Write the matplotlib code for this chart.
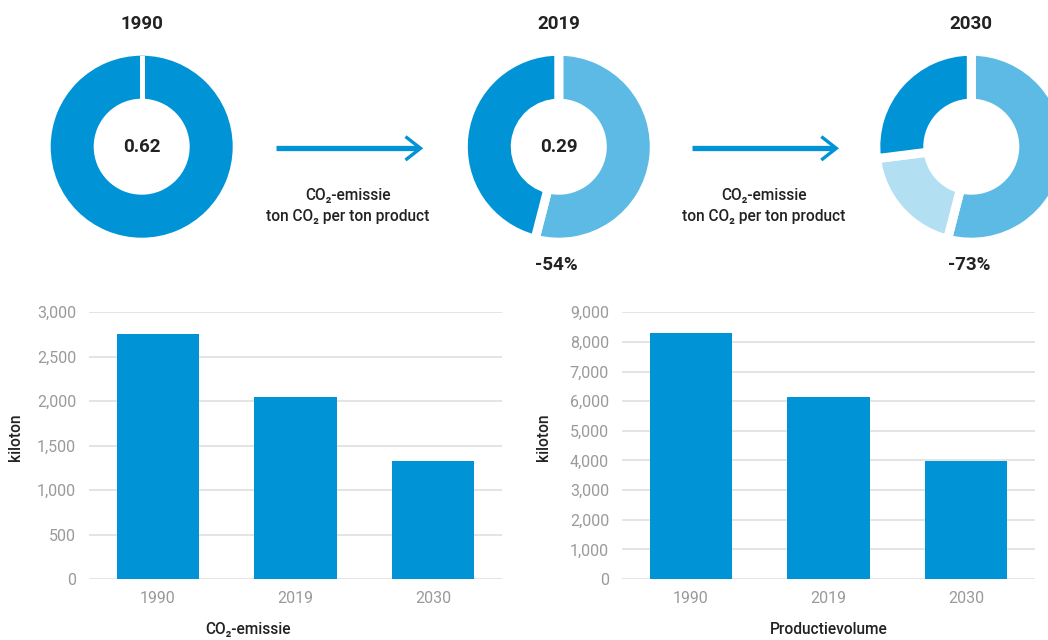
import matplotlib
matplotlib.use("Agg")
import matplotlib.pyplot as plt
from matplotlib.ticker import StrMethodFormatter, FixedLocator

plt.rcParams['font.family'] = ['Roboto', 'DejaVu Sans']

# ---- data ----
years = ['1990', '2019', '2030']
intensity = ['0.62', '0.29', None]          # ton CO2 per ton product
reduction_labels = [None, '-54%', '-73%']
# donut shares, clockwise from 12 o'clock
donut_shares = [
    [100],
    [54, 46],
    [54, 19, 27],
]
co2_kton = [2760, 2045, 1325]
production_kton = [8300, 6130, 3980]

DARK = '#0094d7'
LIGHT = '#5dbae4'
PALE = '#b3dff2'
donut_colors = [
    [DARK],
    [LIGHT, DARK],
    [LIGHT, PALE, DARK],
]
TXT = '#222222'
GREY = '#9a9a9a'
GRID = '#e2e2e2'

W, H = 1048, 640
fig = plt.figure(figsize=(W / 100, H / 100), dpi=100)


def px_axes(x0, y0, w, h):
    """Axes placed in pixel coordinates measured from the top-left corner."""
    return fig.add_axes([x0 / W, 1 - (y0 + h) / H, w / W, h / H])


# ---- donuts ----
R = 91.0          # visible outer radius, px
R_IN = 48.0       # visible inner radius, px
centers = [(141.7, 146.7), (558.8, 146.7), (971.3, 146.7)]
gap_px = [5, 9, 9]

for (cx, cy), shares, cols, gap in zip(centers, donut_shares, donut_colors, gap_px):
    ax = px_axes(cx - R, cy - R, 2 * R, 2 * R)
    ax.set_xlim(-1, 1)
    ax.set_ylim(-1, 1)
    if len(shares) > 1:
        half = gap / 2 / R
        ax.pie(shares, colors=cols, startangle=90, counterclock=False,
               radius=1 + half, frame=False,
               wedgeprops=dict(width=(R - R_IN) / R + 2 * half,
                               edgecolor='white', linewidth=gap * 0.72))
    else:
        ax.pie(shares, colors=cols, startangle=90, counterclock=False,
               radius=1, frame=False,
               wedgeprops=dict(width=(R - R_IN) / R, linewidth=0))
        # seam at 12 o'clock
        ax.plot([0, 0], [R_IN / R - 0.05, 1.05], color='white',
                lw=gap * 0.72, solid_capstyle='butt')
    ax.set_xlim(-1, 1)
    ax.set_ylim(-1, 1)
    ax.set_axis_off()

# ---- overlay for titles, arrows and captions ----
ov = fig.add_axes([0, 0, 1, 1])
ov.set_xlim(0, W)
ov.set_ylim(H, 0)
ov.set_axis_off()

for (cx, cy), yr, val, red in zip(centers, years, intensity, reduction_labels):
    ov.text(cx, 29.3, yr, ha='center', va='baseline', fontsize=13.5,
            fontweight='bold', color=TXT)
    if val:
        ov.text(cx, 152.5, val, ha='center', va='baseline', fontsize=13.5,
                fontweight='bold', color=TXT)
    if red:
        ov.text(cx - 2, 270.5, red, ha='center', va='baseline', fontsize=13.5,
                fontweight='bold', color=TXT)

for x0, x1, xc in [(276, 420.5, 348), (691.7, 836.3, 764)]:
    ov.plot([x0, x1 - 2], [148.3, 148.3], color=DARK, lw=3.8,
            solid_capstyle='butt')
    ov.plot([x1 - 15, x1, x1 - 15], [136.6, 148.3, 160.0], color=DARK,
            lw=2.4, solid_joinstyle='miter', solid_capstyle='butt')
    ov.text(xc, 200, 'CO\u2082-emissie', ha='center', va='baseline',
            fontsize=11.2, fontweight='medium', color=TXT)
    ov.text(xc, 220.7, 'ton CO\u2082 per ton product', ha='center',
            va='baseline', fontsize=11.2, fontweight='medium', color=TXT)

# ---- bar charts ----
bar_specs = [
    (89.25, co2_kton, 3000, 500, 'CO\u2082-emissie', 0.385, -0.178),
    (622.3, production_kton, 9000, 1000, 'Productievolume', 0.5, -0.192),
]
xpos = list(range(len(years)))
for left, vals, top, step, xlabel, xl_x, yl_x in bar_specs:
    ax = px_axes(left, 312.3, 412.5, 266.7)
    ax.bar(xpos, vals, width=0.6, color=DARK, zorder=2)
    ax.set_xlim(-0.5, len(years) - 0.5)
    ax.set_ylim(0, top)
    ax.yaxis.set_major_locator(FixedLocator(list(range(0, top + 1, step))))
    ax.yaxis.set_major_formatter(StrMethodFormatter('{x:,.0f}'))
    ax.set_xticks(xpos)
    ax.set_xticklabels(years)
    ax.grid(axis='y', color=GRID, lw=1.3, zorder=0)
    ax.set_axisbelow(True)
    for s in ax.spines.values():
        s.set_visible(False)
    ax.tick_params(axis='both', length=0, labelsize=11.5, labelcolor=GREY)
    ax.tick_params(axis='y', pad=9.5)
    ax.tick_params(axis='x', pad=8.5)
    ax.set_ylabel('kiloton', fontsize=11.2, fontweight='medium', color=TXT)
    ax.yaxis.set_label_coords(yl_x, 0.531)
    ax.yaxis.label.set_va('center')
    ax.set_xlabel(xlabel, fontsize=11.2, fontweight='medium', color=TXT)
    ax.xaxis.set_label_coords(xl_x, -0.191)
    ax.xaxis.label.set_va('center')

fig.savefig('out.png', dpi=100)
